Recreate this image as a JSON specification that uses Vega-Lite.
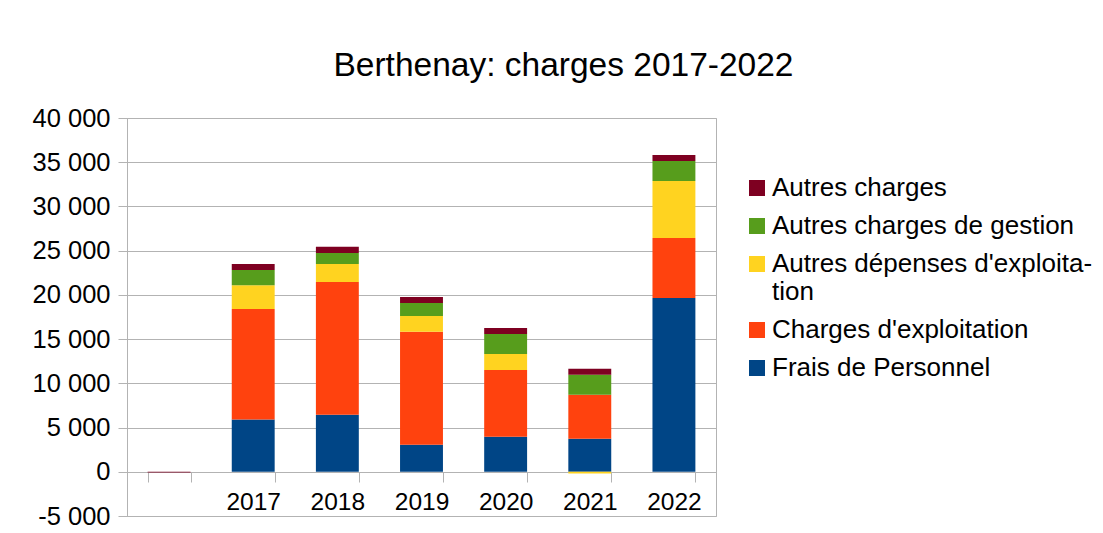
{
  "$schema": "https://vega.github.io/schema/vega-lite/v6.json",
  "width": 589,
  "height": 398,
  "autosize": {"type": "none"},
  "padding": {"left": 127, "top": 118, "right": 387, "bottom": 17},
  "background": "white",
  "title": {
    "text": "Berthenay: charges 2017-2022",
    "font": "Liberation Sans",
    "fontSize": 33.5,
    "fontWeight": "normal",
    "color": "black",
    "anchor": "middle",
    "dx": 142,
    "offset": 23
  },
  "data": {
    "values": [
      {"year": " ", "series": "Autres charges", "value": -80},
      {"year": "2017", "series": "Frais de Personnel", "value": 5900},
      {"year": "2017", "series": "Charges d'exploitation", "value": 12500},
      {"year": "2017", "series": "Autres dépenses d'exploitation", "value": 2700},
      {"year": "2017", "series": "Autres charges de gestion", "value": 1700},
      {"year": "2017", "series": "Autres charges", "value": 700},
      {"year": "2018", "series": "Frais de Personnel", "value": 6450},
      {"year": "2018", "series": "Charges d'exploitation", "value": 15000},
      {"year": "2018", "series": "Autres dépenses d'exploitation", "value": 2050},
      {"year": "2018", "series": "Autres charges de gestion", "value": 1250},
      {"year": "2018", "series": "Autres charges", "value": 680},
      {"year": "2019", "series": "Frais de Personnel", "value": 3050},
      {"year": "2019", "series": "Charges d'exploitation", "value": 12770},
      {"year": "2019", "series": "Autres dépenses d'exploitation", "value": 1800},
      {"year": "2019", "series": "Autres charges de gestion", "value": 1470},
      {"year": "2019", "series": "Autres charges", "value": 680},
      {"year": "2020", "series": "Frais de Personnel", "value": 3950},
      {"year": "2020", "series": "Charges d'exploitation", "value": 7570},
      {"year": "2020", "series": "Autres dépenses d'exploitation", "value": 1800},
      {"year": "2020", "series": "Autres charges de gestion", "value": 2260},
      {"year": "2020", "series": "Autres charges", "value": 680},
      {"year": "2021", "series": "Frais de Personnel", "value": 3730},
      {"year": "2021", "series": "Charges d'exploitation", "value": 4970},
      {"year": "2021", "series": "Autres dépenses d'exploitation", "value": -200},
      {"year": "2021", "series": "Autres charges de gestion", "value": 2260},
      {"year": "2021", "series": "Autres charges", "value": 680},
      {"year": "2022", "series": "Frais de Personnel", "value": 19660},
      {"year": "2022", "series": "Charges d'exploitation", "value": 6780},
      {"year": "2022", "series": "Autres dépenses d'exploitation", "value": 6440},
      {"year": "2022", "series": "Autres charges de gestion", "value": 2260},
      {"year": "2022", "series": "Autres charges", "value": 680}
    ]
  },
  "mark": {"type": "bar"},
  "encoding": {
    "x": {
      "field": "year",
      "type": "nominal",
      "sort": [" ", "2017", "2018", "2019", "2020", "2021", "2022"],
      "scale": {"paddingInner": 0.49, "paddingOuter": 0.245},
      "axis": {
        "title": null,
        "labelAngle": 0,
        "offset": -44,
        "tickBand": "extent",
        "tickSize": 10,
        "tickColor": "#b3b3b3",
        "domainColor": "#b3b3b3",
        "labelPadding": 8,
        "labelFont": "Liberation Sans",
        "labelFontSize": 24.5,
        "labelColor": "black",
        "grid": false
      }
    },
    "y": {
      "field": "value",
      "type": "quantitative",
      "stack": "zero",
      "scale": {"domain": [-5000, 40000], "nice": false, "zero": false},
      "axis": {
        "title": null,
        "values": [-5000, 0, 5000, 10000, 15000, 20000, 25000, 30000, 35000, 40000],
        "labelExpr": "(datum.value < 0 ? '-' : '') + replace(format(abs(datum.value), ',d'), ',', ' ')",
        "grid": true,
        "gridColor": "#b3b3b3",
        "tickColor": "#b3b3b3",
        "domainColor": "#b3b3b3",
        "tickSize": 9,
        "labelPadding": 8,
        "labelFont": "Liberation Sans",
        "labelFontSize": 25.5,
        "labelColor": "black"
      }
    },
    "color": {
      "field": "series",
      "type": "nominal",
      "scale": {
        "domain": ["Autres charges", "Autres charges de gestion", "Autres dépenses d'exploitation", "Charges d'exploitation", "Frais de Personnel"],
        "range": ["#7e0021", "#579d1c", "#ffd320", "#ff420e", "#004586"]
      },
      "legend": {
        "title": null,
        "orient": "none",
        "legendX": 617,
        "legendY": 57,
        "symbolType": "square",
        "symbolSize": 256,
        "symbolStrokeWidth": 0,
        "labelFont": "Liberation Sans",
        "labelFontSize": 26,
        "labelColor": "black",
        "labelOffset": 2,
        "labelLimit": 400,
        "rowPadding": 12,
        "labelExpr": "datum.label == \"Autres dépenses d'exploitation\" ? [\"Autres dépenses d'exploita-\", \"tion\"] : datum.label"
      }
    },
    "order": {"field": "series", "sort": "descending"}
  },
  "config": {
    "view": {"stroke": "#b3b3b3"},
    "axis": {"domainWidth": 1, "gridWidth": 1}
  }
}
